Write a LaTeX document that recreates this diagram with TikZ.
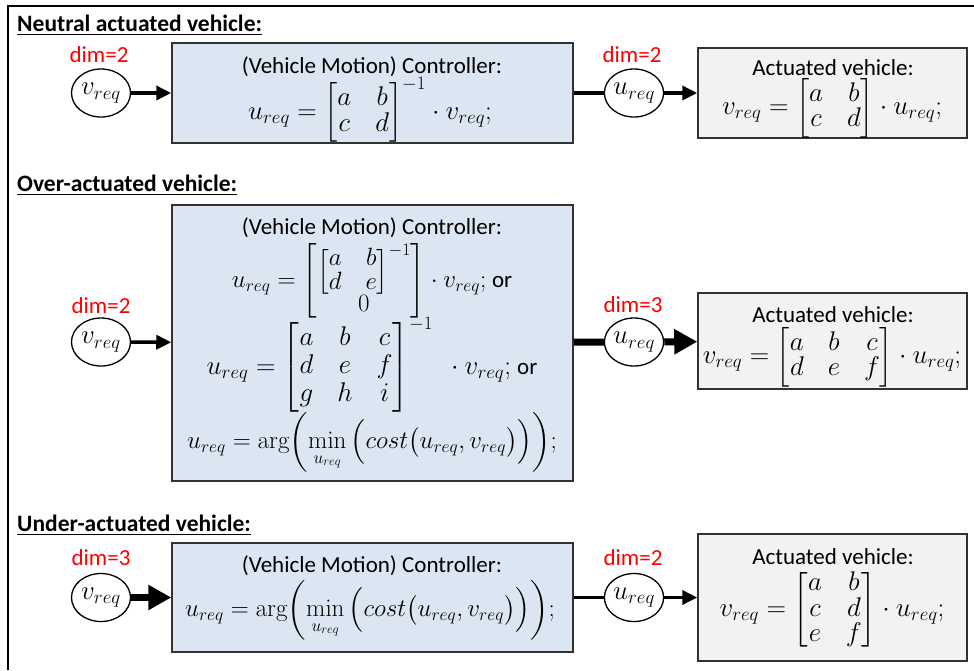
\documentclass[tikz,border=0pt]{standalone}
\usepackage{fix-cm}
\usepackage{amsmath}
\usepackage[no-math]{fontspec}
\setmainfont{Carlito}
\usetikzlibrary{arrows.meta,shapes.geometric}
\definecolor{ctrlblue}{RGB}{220,230,242}
\definecolor{actgray}{RGB}{242,242,242}
\definecolor{edgegray}{RGB}{50,50,50}
\setlength{\arraycolsep}{12pt}
\newcommand{\ortxt}{{\fontsize{23}{28}\selectfont or}}
\tikzset{
  ctrl/.style={draw=edgegray, line width=1.5pt, fill=ctrlblue, minimum width=401pt, inner sep=0pt},
  plant/.style={draw=edgegray, line width=1.5pt, fill=actgray, minimum width=269pt, inner sep=0pt},
  sig/.style={ellipse, draw, line width=1.3pt, fill=white, minimum width=59pt, minimum height=48pt, inner sep=0pt, font=\fontsize{27}{28}\selectfont},
  eq/.style={font=\fontsize{27}{28}\selectfont\def\arraystretch{0.8}},
  eqnest/.style={font=\fontsize{25}{26}\selectfont\def\arraystretch{0.8}},
  eqwide/.style={font=\fontsize{27}{28}\selectfont\def\arraystretch{1}},
  eqcost/.style={font=\fontsize{25}{28}\selectfont},
  dimlbl/.style={text=red},
  head/.style={font=\fontsize{23.5}{28}\selectfont\bfseries, anchor=base west, inner sep=0pt},
  twoline/.style={line width=3.5pt},
  threeline/.style={line width=7pt},
  dimtwo/.style={twoline, -{Triangle[length=15pt,width=14pt]}},
  dimthree/.style={threeline, -{Triangle[length=23pt,width=24pt]}},
}
\begin{document}
\begin{tikzpicture}[x=1pt,y=-1pt, every node/.style={font=\fontsize{23}{28}\selectfont}]
    \useasboundingbox (0,0) rectangle (974,670);
    \draw[line width=2pt] (8,670) -- (8,6) -- (974,6);

    % neutral
    \node[head] (h1) at (17,31) {\underline{Neutral actuated vehicle:}};
    \node[sig] (v1) at (101,93) {$v_{req}$};
    \node[dimlbl] (d1) at (99,55) {dim=2};
    \node[ctrl, minimum height=100pt] (c1) at (372.5,93) {};
    \node (c1t) at (372,67) {(Vehicle Motion) Controller:};
    \node[eq] (c1e) at (370,110) {$u_{req}=\begin{bmatrix}a&b\\c&d\end{bmatrix}^{-1}\cdot v_{req};$};
    \node[sig] (u1) at (634,93) {$u_{req}$};
    \node[dimlbl] (d2) at (632,55) {dim=2};
    \node[plant, minimum height=90pt] (p1) at (832.5,93) {};
    \node (p1t) at (833,68) {Actuated vehicle:};
    \node[eq] (p1e) at (832,108) {$v_{req}=\begin{bmatrix}a&b\\c&d\end{bmatrix}\cdot u_{req};$};
    \draw[dimtwo] (v1) -- (c1);
    \draw[twoline] (c1) -- (u1);
    \draw[dimtwo] (u1) -- (p1);

    % over
    \node[head] (h2) at (17,191) {\underline{Over-actuated vehicle:}};
    \node[sig] (v2) at (101,342) {$v_{req}$};
    \node[dimlbl] (d3) at (101,306) {dim=2};
    \node[ctrl, minimum height=276pt] (c2) at (372.5,343) {};
    \node (c2t) at (372,228) {(Vehicle Motion) Controller:};
    \node[eqnest] (c2a) at (372,281) {$u_{req}=\left[\begin{matrix}\begin{bmatrix}a&b\\d&e\end{bmatrix}^{-1}\\[0pt]0\end{matrix}\right]\cdot v_{req};$ \ortxt};
    \node[eqwide] (c2b) at (372,365) {$u_{req}=\begin{bmatrix}a&b&c\\d&e&f\\g&h&i\end{bmatrix}^{-1}\ \ \cdot v_{req};$ \ortxt};
    \node[eqcost] (c2c) at (372,442) {$u_{req}=\arg\!\left(\min\limits_{u_{req}}\Big(cost\big(u_{req},v_{req}\big)\Big)\right)\!;$};
    \node[sig] (u2) at (634,342) {$u_{req}$};
    \node[dimlbl] (d4) at (633,305) {dim=3};
    \node[plant, minimum height=96pt] (p2) at (832.5,341) {};
    \node (p2t) at (833,315) {Actuated vehicle:};
    \node[eq] (p2e) at (832,357) {$v_{req}=\begin{bmatrix}a&b&c\\d&e&f\end{bmatrix}\cdot u_{req};$};
    \draw[dimtwo] (v2) -- (c2);
    \draw[threeline] (c2) -- (u2);
    \draw[dimthree] (u2) -- (p2);

    % under
    \node[head] (h3) at (17,531) {\underline{Under-actuated vehicle:}};
    \node[sig] (v3) at (101,597.5) {$v_{req}$};
    \node[dimlbl] (d5) at (101,558) {dim=3};
    \node[ctrl, minimum height=109pt] (c3) at (372.5,597.5) {};
    \node (c3t) at (372,566) {(Vehicle Motion) Controller:};
    \node[eqcost] (c3e) at (370,610) {$u_{req}=\arg\!\left(\min\limits_{u_{req}}\Big(cost\big(u_{req},v_{req}\big)\Big)\right)\!;$};
    \node[sig] (u3) at (634,597.5) {$u_{req}$};
    \node[dimlbl] (d6) at (633,558) {dim=2};
    \node[plant, minimum height=127pt] (p3) at (832.5,597.5) {};
    \node (p3t) at (833,557) {Actuated vehicle:};
    \node[eq] (p3e) at (832,610) {$v_{req}=\begin{bmatrix}a&b\\c&d\\e&f\end{bmatrix}\cdot u_{req};$};
    \draw[dimthree] (v3) -- (c3);
    \draw[twoline] (c3) -- (u3);
    \draw[dimtwo] (u3) -- (p3);
\end{tikzpicture}
\end{document}
